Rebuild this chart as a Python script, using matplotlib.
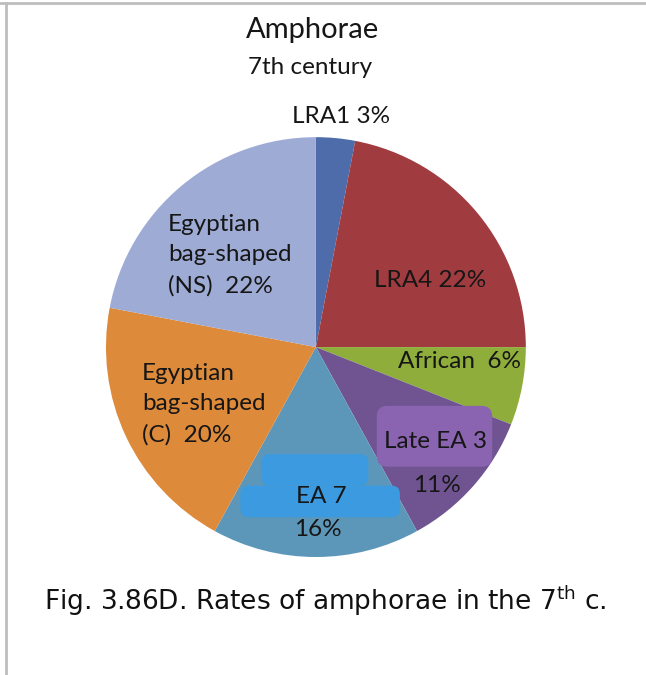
import matplotlib
matplotlib.use("Agg")
import matplotlib.pyplot as plt
from matplotlib.patches import FancyBboxPatch
from matplotlib.lines import Line2D

# Amphora types, 7th century (percent of total)
categories = ["LRA1", "LRA4", "African", "Late EA 3", "EA 7",
              "Egyptian\nbag-shaped\n(C)", "Egyptian\nbag-shaped\n(NS)"]
shares = [3, 22, 6, 11, 16, 20, 22]
colors = ["#4d6ca9", "#a03b3f", "#8fad3b", "#6f5491", "#5c97b9",
          "#dd8a3a", "#9eabd5"]

label_font = "Lato"

fig = plt.figure(figsize=(6.46, 6.75), dpi=100)
fig.patch.set_facecolor("white")

# light frame along the top and left edges
fig.add_artist(Line2D([0.0, 1.0], [0.995, 0.995], transform=fig.transFigure,
                      color="#bdbdbd", lw=2.0))
fig.add_artist(Line2D([0.009, 0.009], [0.0, 0.995], transform=fig.transFigure,
                      color="#bdbdbd", lw=2.0))

ax = fig.add_axes([0.164, 0.1748, 0.650, 0.622])
ax.pie(shares, colors=colors, startangle=90, counterclock=False, radius=1.0,
       wedgeprops=dict(linewidth=0))
ax.set_xlim(-1, 1)
ax.set_ylim(-1, 1)
ax.set_aspect("equal")
ax.axis("off")

fs = 17.5
txt = dict(family=label_font, fontsize=fs, color="#161616")

# hand-drawn style highlights behind two labels
ax.add_patch(FancyBboxPatch((-0.25, -0.65), 0.49, 0.13,
                            boxstyle="round,pad=0.01,rounding_size=0.04",
                            fc="#3b9ae0", ec="none", zorder=3))
ax.add_patch(FancyBboxPatch((-0.35, -0.80), 0.74, 0.13,
                            boxstyle="round,pad=0.01,rounding_size=0.04",
                            fc="#3b9ae0", ec="none", zorder=3))
ax.add_patch(FancyBboxPatch((0.30, -0.56), 0.53, 0.27,
                            boxstyle="round,pad=0.01,rounding_size=0.05",
                            fc="#8a64b0", ec="none", zorder=3))

# slice labels
ax.text(0.12, 1.10, f"{categories[0]} {shares[0]}%", ha="center", va="center", zorder=5, **txt)
ax.plot([0.145, 0.135], [1.06, 1.005], color="#333333", lw=0.8, zorder=5)
ax.text(0.543, 0.319, f"{categories[1]} {shares[1]}%", ha="center", va="center", zorder=5, **txt)
ax.text(0.686, -0.067, f"{categories[2]}  {shares[2]}%", ha="center", va="center", zorder=5, **txt)
ax.text(0.571, -0.452, categories[3], ha="center", va="center", zorder=5, **txt)
ax.text(0.576, -0.657, f"{shares[3]}%", ha="center", va="center", zorder=5, **txt)
ax.text(0.024, -0.714, categories[4], ha="center", va="center", zorder=5, **txt)
ax.text(0.01, -0.871, f"{shares[4]}%", ha="center", va="center", zorder=5, **txt)
ax.text(-0.829, -0.271, f"{categories[5]}  {shares[5]}%", ha="left", va="center",
        linespacing=1.55, zorder=5, **txt)
ax.text(-0.705, 0.438, f"{categories[6]}  {shares[6]}%", ha="left", va="center",
        linespacing=1.55, zorder=5, **txt)

# titles
fig.text(313 / 646, 1 - 30 / 675, "Amphorae", ha="center", va="center",
         family=label_font, fontsize=21, color="#161616")
fig.text(310 / 646, 1 - 67 / 675, "7th century", ha="center", va="center",
         family=label_font, fontsize=17.5, color="#161616")

# caption
fig.text(325 / 646, 1 - 601 / 675, r"Fig. 3.86D. Rates of amphorae in the 7$^{\mathrm{th}}$ c.",
         ha="center", va="center", family="DejaVu Sans", fontsize=19, color="#111111")

fig.savefig("out.png", dpi=100, facecolor="white")
